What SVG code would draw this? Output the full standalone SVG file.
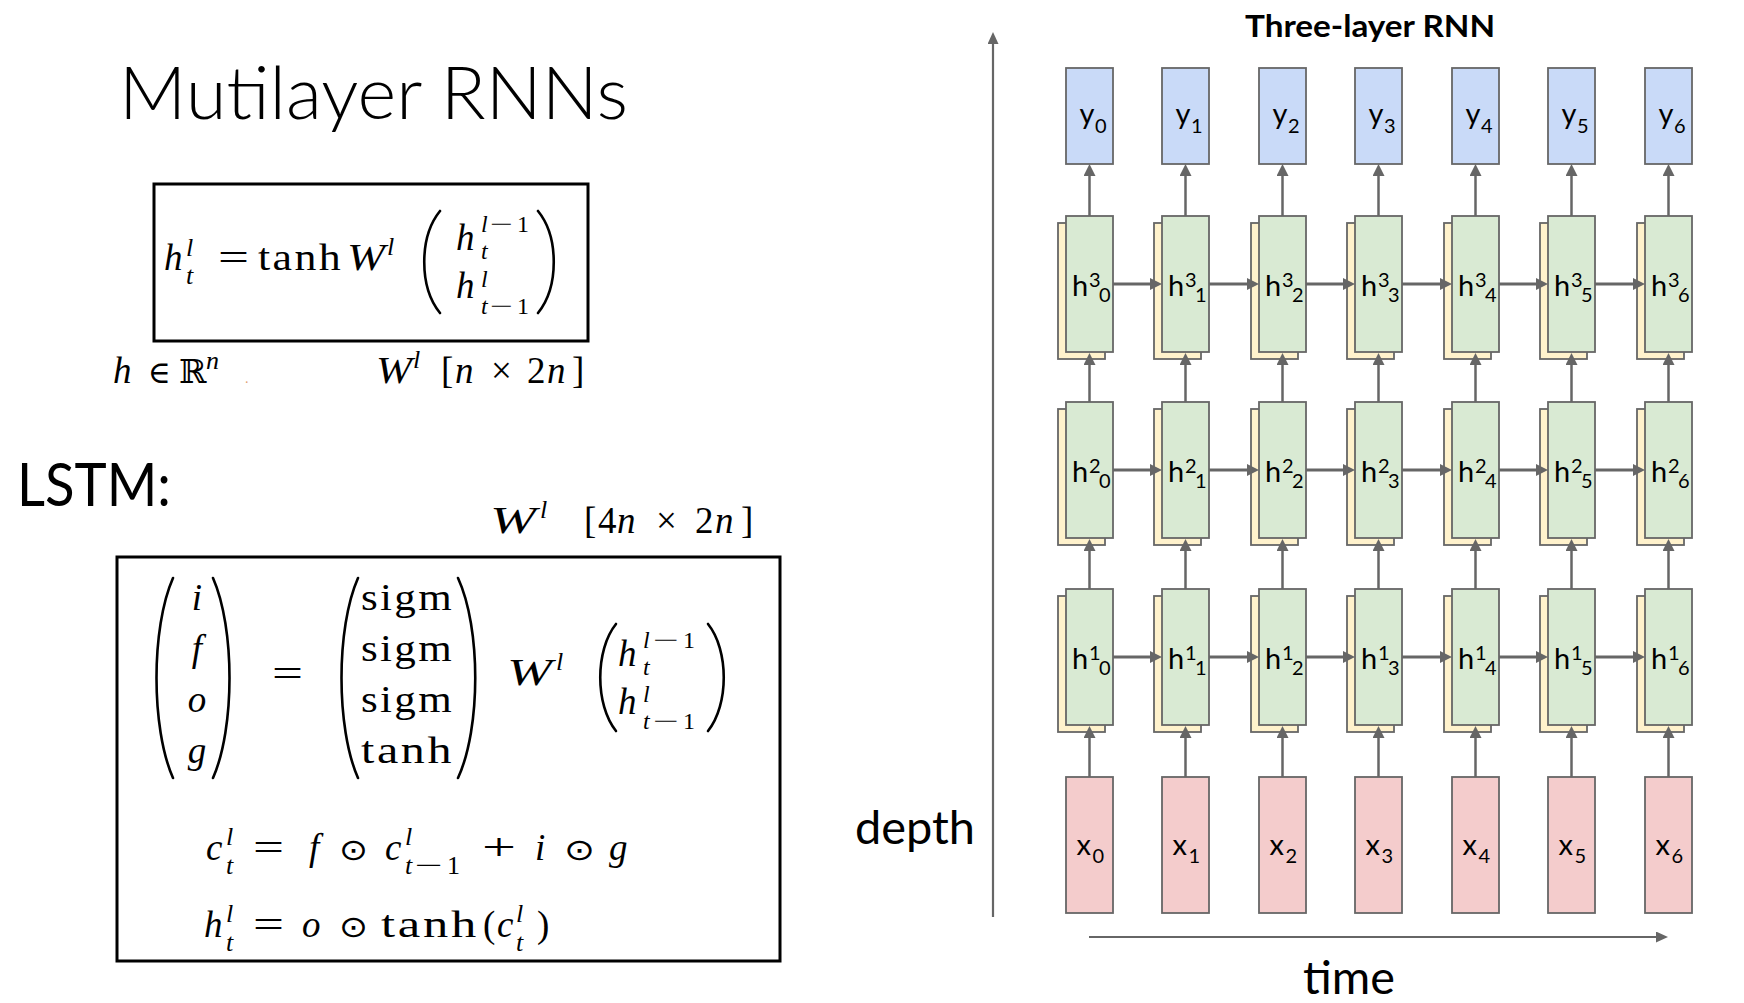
<svg xmlns="http://www.w3.org/2000/svg" width="1744" height="1003" viewBox="0 0 1744 1003">
<defs>
<style>
.cal{font-family:Lato,"Open Sans","Liberation Sans",sans-serif;fill:#000}
.m{font-family:"Liberation Serif","DejaVu Serif",serif;font-size:37px;fill:#000}
.wd{font-size:37px;letter-spacing:2px}
.mr{font-family:"DejaVu Serif","DejaVu Sans",serif;fill:#000}
.i{font-style:italic}
.s{font-size:26px}
.s4{font-size:24px}
.sym{font-family:"DejaVu Sans","DejaVu Serif",sans-serif;font-size:30px}
.par{fill:none;stroke:#000;stroke-width:2.6;stroke-linecap:round}
.fb{fill:none;stroke:#000;stroke-width:3}
.nb{stroke:#666;stroke-width:1.8}
.y{fill:#c9daf8}
.g{fill:#d9ead3}
.w{fill:#fff2cc}
.x{fill:#f4cccc}
.lb{font-family:Lato,"Open Sans","Liberation Sans",sans-serif;font-size:29px;fill:#000}
.sc{font-size:20px}
.v{stroke:#666;stroke-width:2.5;fill:none}
.hz{stroke:#666;stroke-width:3;fill:none}
.ax{stroke:#666;stroke-width:2.2;fill:none}
</style>
<marker id="ah" markerUnits="userSpaceOnUse" markerWidth="12" markerHeight="12" viewBox="0 0 12 12" refX="0" refY="6" orient="auto"><path d="M0,0 L12,6 L0,12 z" fill="#666"/></marker>
<marker id="ahx" markerUnits="userSpaceOnUse" markerWidth="12" markerHeight="11" viewBox="0 0 12 11" refX="0" refY="5.5" orient="auto"><path d="M0,0 L12,5.5 L0,11 z" fill="#666"/></marker>
</defs>
<rect width="1744" height="1003" fill="#fff"/>

<g id="title">
<text class="cal" x="119" y="119" font-size="72" font-weight="300" textLength="509" lengthAdjust="spacingAndGlyphs">Mutilayer RNNs</text>
</g>

<g id="rnn-formula">
<rect class="fb" x="154" y="184" width="434" height="157"/>
<text class="m i" x="164" y="270">h</text>
<text class="m i s" x="186" y="256">l</text>
<text class="m i s" x="186" y="284">t</text>
<text class="m" x="218" y="270" textLength="31" lengthAdjust="spacingAndGlyphs">=</text>
<text class="m wd" x="258" y="270" textLength="85" lengthAdjust="spacingAndGlyphs">tanh</text>
<text class="m i" x="347" y="270" textLength="38" lengthAdjust="spacingAndGlyphs">W</text>
<text class="m i s" x="387" y="255">l</text>
<path class="par" d="M440,211 C419,237 419,287 440,313"/>
<text class="m i" x="456" y="250">h</text>
<text class="m i s4" x="481" y="232">l</text>
<text class="m s4" x="490" y="232" textLength="23" lengthAdjust="spacingAndGlyphs">−</text>
<text class="m s4" x="517" y="232">1</text>
<text class="m i s4" x="481" y="259">t</text>
<text class="m i" x="456" y="298">h</text>
<text class="m i s4" x="481" y="287">l</text>
<text class="m i s4" x="481" y="314">t</text>
<text class="m s4" x="490" y="314" textLength="23" lengthAdjust="spacingAndGlyphs">−</text>
<text class="m s4" x="517" y="314">1</text>
<path class="par" d="M538,211 C559,237 559,287 538,313"/>
</g>

<g id="rnn-dims">
<text class="m i" x="113" y="383">h</text>
<text class="mr" x="148" y="383" font-size="31">∈</text>
<text class="mr" x="179" y="383" font-size="33">ℝ</text>
<text class="m i s" x="206" y="369">n</text>
<text x="245" y="383" font-family="Liberation Serif, serif" font-size="14" fill="#e0a070">.</text>
<text class="m i" x="376" y="383" textLength="36" lengthAdjust="spacingAndGlyphs">W</text>
<text class="m i s" x="413" y="368">l</text>
<text class="m" y="383"><tspan x="441">[</tspan><tspan x="455" font-style="italic">n</tspan><tspan x="491">×</tspan><tspan x="527">2</tspan><tspan x="547" font-style="italic">n</tspan><tspan x="572">]</tspan></text>
</g>

<g id="lstm-label">
<text class="cal" x="17" y="506" font-size="60" textLength="154" lengthAdjust="spacingAndGlyphs">LSTM:</text>
</g>

<g id="lstm-dims">
<text class="m i" x="490" y="533" textLength="46" lengthAdjust="spacingAndGlyphs">W</text>
<text class="m i s" x="540" y="518">l</text>
<text class="m" y="533"><tspan x="584">[</tspan><tspan x="598">4</tspan><tspan x="617" font-style="italic">n</tspan><tspan x="656">×</tspan><tspan x="695">2</tspan><tspan x="715" font-style="italic">n</tspan><tspan x="741">]</tspan></text>
</g>

<g id="lstm-formula">
<rect class="fb" x="117" y="557" width="663" height="404"/>
<path class="par" d="M173,578 C151,628 151,728 173,778"/>
<text class="m i" text-anchor="middle"><tspan x="197" y="610">i</tspan><tspan x="197" y="661">f</tspan><tspan x="197" y="712">o</tspan><tspan x="197" y="763">g</tspan></text>
<path class="par" d="M213,578 C235,628 235,728 213,778"/>
<text class="m" x="272" y="686" textLength="31" lengthAdjust="spacingAndGlyphs">=</text>
<path class="par" d="M358,578 C336,628 336,728 358,778"/>
<text class="m wd" x="361" y="610" textLength="93" lengthAdjust="spacingAndGlyphs">sigm</text>
<text class="m wd" x="361" y="661" textLength="93" lengthAdjust="spacingAndGlyphs">sigm</text>
<text class="m wd" x="361" y="712" textLength="93" lengthAdjust="spacingAndGlyphs">sigm</text>
<text class="m wd" x="361" y="763" textLength="93" lengthAdjust="spacingAndGlyphs">tanh</text>
<path class="par" d="M458,578 C481,628 481,728 458,778"/>
<text class="m i" x="507" y="685" textLength="45" lengthAdjust="spacingAndGlyphs">W</text>
<text class="m i s" x="556" y="670">l</text>
<path class="par" d="M616,624 C595,650 595,705 616,731"/>
<text class="m i" x="618" y="666">h</text>
<text class="m i s4" x="643" y="648">l</text>
<text class="m s4" x="653" y="648" textLength="26" lengthAdjust="spacingAndGlyphs">−</text>
<text class="m s4" x="683" y="648">1</text>
<text class="m i s4" x="643" y="675">t</text>
<text class="m i" x="618" y="714">h</text>
<text class="m i s4" x="643" y="702">l</text>
<text class="m i s4" x="643" y="729">t</text>
<text class="m s4" x="653" y="729" textLength="26" lengthAdjust="spacingAndGlyphs">−</text>
<text class="m s4" x="683" y="729">1</text>
<path class="par" d="M708,624 C729,650 729,705 708,731"/>

<text class="m i" x="206" y="860">c</text>
<text class="m i s" x="226" y="845">l</text>
<text class="m i s" x="226" y="874">t</text>
<text class="m" x="253" y="860" textLength="31" lengthAdjust="spacingAndGlyphs">=</text>
<text class="m i" x="309" y="860">f</text>
<text class="m sym" x="339" y="860" textLength="29" lengthAdjust="spacingAndGlyphs">⊙</text>
<text class="m i" x="385" y="860">c</text>
<text class="m i s" x="405" y="845">l</text>
<text class="m i s" x="405" y="874">t</text>
<text class="m s" x="415" y="874" textLength="28" lengthAdjust="spacingAndGlyphs">−</text>
<text class="m s" x="447" y="874">1</text>
<text class="m" x="482" y="860" textLength="34" lengthAdjust="spacingAndGlyphs">+</text>
<text class="m i" x="535" y="860">i</text>
<text class="m sym" x="564" y="860" textLength="31" lengthAdjust="spacingAndGlyphs">⊙</text>
<text class="m i" x="609" y="860">g</text>

<text class="m i" x="204" y="937">h</text>
<text class="m i s" x="226" y="922">l</text>
<text class="m i s" x="226" y="951">t</text>
<text class="m" x="253" y="937" textLength="31" lengthAdjust="spacingAndGlyphs">=</text>
<text class="m i" x="302" y="937">o</text>
<text class="m sym" x="339" y="937" textLength="29" lengthAdjust="spacingAndGlyphs">⊙</text>
<text class="m wd" x="381" y="937" textLength="98" lengthAdjust="spacingAndGlyphs">tanh</text>
<text class="m" x="483" y="937">(</text>
<text class="m i" x="497" y="937">c</text>
<text class="m i s" x="516" y="922">l</text>
<text class="m i s" x="516" y="951">t</text>
<text class="m" x="537" y="937">)</text>
</g>

<g id="rnn-title">
<text class="cal" x="1245" y="37" font-size="30" font-weight="700" textLength="250" lengthAdjust="spacingAndGlyphs">Three-layer RNN</text>
</g>

<g id="axis-labels">
<text class="cal" x="855" y="844" font-size="46" textLength="120" lengthAdjust="spacingAndGlyphs">depth</text>
<text class="cal" x="1303" y="994" font-size="46" textLength="92" lengthAdjust="spacingAndGlyphs">time</text>
</g>

<g id="y0"><rect class="nb y" x="1066" y="68" width="47" height="96"/><text class="lb"><tspan x="1079.5" y="124">y</tspan><tspan class="sc" x="1095" y="133">0</tspan></text></g>
<g id="y1"><rect class="nb y" x="1162" y="68" width="47" height="96"/><text class="lb"><tspan x="1175.5" y="124">y</tspan><tspan class="sc" x="1191" y="133">1</tspan></text></g>
<g id="y2"><rect class="nb y" x="1259" y="68" width="47" height="96"/><text class="lb"><tspan x="1272.5" y="124">y</tspan><tspan class="sc" x="1288" y="133">2</tspan></text></g>
<g id="y3"><rect class="nb y" x="1355" y="68" width="47" height="96"/><text class="lb"><tspan x="1368.5" y="124">y</tspan><tspan class="sc" x="1384" y="133">3</tspan></text></g>
<g id="y4"><rect class="nb y" x="1452" y="68" width="47" height="96"/><text class="lb"><tspan x="1465.5" y="124">y</tspan><tspan class="sc" x="1481" y="133">4</tspan></text></g>
<g id="y5"><rect class="nb y" x="1548" y="68" width="47" height="96"/><text class="lb"><tspan x="1561.5" y="124">y</tspan><tspan class="sc" x="1577" y="133">5</tspan></text></g>
<g id="y6"><rect class="nb y" x="1645" y="68" width="47" height="96"/><text class="lb"><tspan x="1658.5" y="124">y</tspan><tspan class="sc" x="1674" y="133">6</tspan></text></g>

<g id="h3-0"><rect class="nb w" x="1058" y="223" width="47" height="136"/><rect class="nb g" x="1066" y="216" width="47" height="136"/><text class="lb"><tspan x="1072" y="295.5">h</tspan><tspan class="sc" x="1089" y="286.5">3</tspan><tspan class="sc" x="1099" y="301.5">0</tspan></text></g>
<g id="h3-1"><rect class="nb w" x="1154" y="223" width="47" height="136"/><rect class="nb g" x="1162" y="216" width="47" height="136"/><text class="lb"><tspan x="1168" y="295.5">h</tspan><tspan class="sc" x="1185" y="286.5">3</tspan><tspan class="sc" x="1195" y="301.5">1</tspan></text></g>
<g id="h3-2"><rect class="nb w" x="1251" y="223" width="47" height="136"/><rect class="nb g" x="1259" y="216" width="47" height="136"/><text class="lb"><tspan x="1265" y="295.5">h</tspan><tspan class="sc" x="1282" y="286.5">3</tspan><tspan class="sc" x="1292" y="301.5">2</tspan></text></g>
<g id="h3-3"><rect class="nb w" x="1347" y="223" width="47" height="136"/><rect class="nb g" x="1355" y="216" width="47" height="136"/><text class="lb"><tspan x="1361" y="295.5">h</tspan><tspan class="sc" x="1378" y="286.5">3</tspan><tspan class="sc" x="1388" y="301.5">3</tspan></text></g>
<g id="h3-4"><rect class="nb w" x="1444" y="223" width="47" height="136"/><rect class="nb g" x="1452" y="216" width="47" height="136"/><text class="lb"><tspan x="1458" y="295.5">h</tspan><tspan class="sc" x="1475" y="286.5">3</tspan><tspan class="sc" x="1485" y="301.5">4</tspan></text></g>
<g id="h3-5"><rect class="nb w" x="1540" y="223" width="47" height="136"/><rect class="nb g" x="1548" y="216" width="47" height="136"/><text class="lb"><tspan x="1554" y="295.5">h</tspan><tspan class="sc" x="1571" y="286.5">3</tspan><tspan class="sc" x="1581" y="301.5">5</tspan></text></g>
<g id="h3-6"><rect class="nb w" x="1637" y="223" width="47" height="136"/><rect class="nb g" x="1645" y="216" width="47" height="136"/><text class="lb"><tspan x="1651" y="295.5">h</tspan><tspan class="sc" x="1668" y="286.5">3</tspan><tspan class="sc" x="1678" y="301.5">6</tspan></text></g>

<g id="h2-0"><rect class="nb w" x="1058" y="409" width="47" height="136"/><rect class="nb g" x="1066" y="402" width="47" height="136"/><text class="lb"><tspan x="1072" y="481.5">h</tspan><tspan class="sc" x="1089" y="472.5">2</tspan><tspan class="sc" x="1099" y="487.5">0</tspan></text></g>
<g id="h2-1"><rect class="nb w" x="1154" y="409" width="47" height="136"/><rect class="nb g" x="1162" y="402" width="47" height="136"/><text class="lb"><tspan x="1168" y="481.5">h</tspan><tspan class="sc" x="1185" y="472.5">2</tspan><tspan class="sc" x="1195" y="487.5">1</tspan></text></g>
<g id="h2-2"><rect class="nb w" x="1251" y="409" width="47" height="136"/><rect class="nb g" x="1259" y="402" width="47" height="136"/><text class="lb"><tspan x="1265" y="481.5">h</tspan><tspan class="sc" x="1282" y="472.5">2</tspan><tspan class="sc" x="1292" y="487.5">2</tspan></text></g>
<g id="h2-3"><rect class="nb w" x="1347" y="409" width="47" height="136"/><rect class="nb g" x="1355" y="402" width="47" height="136"/><text class="lb"><tspan x="1361" y="481.5">h</tspan><tspan class="sc" x="1378" y="472.5">2</tspan><tspan class="sc" x="1388" y="487.5">3</tspan></text></g>
<g id="h2-4"><rect class="nb w" x="1444" y="409" width="47" height="136"/><rect class="nb g" x="1452" y="402" width="47" height="136"/><text class="lb"><tspan x="1458" y="481.5">h</tspan><tspan class="sc" x="1475" y="472.5">2</tspan><tspan class="sc" x="1485" y="487.5">4</tspan></text></g>
<g id="h2-5"><rect class="nb w" x="1540" y="409" width="47" height="136"/><rect class="nb g" x="1548" y="402" width="47" height="136"/><text class="lb"><tspan x="1554" y="481.5">h</tspan><tspan class="sc" x="1571" y="472.5">2</tspan><tspan class="sc" x="1581" y="487.5">5</tspan></text></g>
<g id="h2-6"><rect class="nb w" x="1637" y="409" width="47" height="136"/><rect class="nb g" x="1645" y="402" width="47" height="136"/><text class="lb"><tspan x="1651" y="481.5">h</tspan><tspan class="sc" x="1668" y="472.5">2</tspan><tspan class="sc" x="1678" y="487.5">6</tspan></text></g>

<g id="h1-0"><rect class="nb w" x="1058" y="596" width="47" height="136"/><rect class="nb g" x="1066" y="589" width="47" height="136"/><text class="lb"><tspan x="1072" y="668.5">h</tspan><tspan class="sc" x="1089" y="659.5">1</tspan><tspan class="sc" x="1099" y="674.5">0</tspan></text></g>
<g id="h1-1"><rect class="nb w" x="1154" y="596" width="47" height="136"/><rect class="nb g" x="1162" y="589" width="47" height="136"/><text class="lb"><tspan x="1168" y="668.5">h</tspan><tspan class="sc" x="1185" y="659.5">1</tspan><tspan class="sc" x="1195" y="674.5">1</tspan></text></g>
<g id="h1-2"><rect class="nb w" x="1251" y="596" width="47" height="136"/><rect class="nb g" x="1259" y="589" width="47" height="136"/><text class="lb"><tspan x="1265" y="668.5">h</tspan><tspan class="sc" x="1282" y="659.5">1</tspan><tspan class="sc" x="1292" y="674.5">2</tspan></text></g>
<g id="h1-3"><rect class="nb w" x="1347" y="596" width="47" height="136"/><rect class="nb g" x="1355" y="589" width="47" height="136"/><text class="lb"><tspan x="1361" y="668.5">h</tspan><tspan class="sc" x="1378" y="659.5">1</tspan><tspan class="sc" x="1388" y="674.5">3</tspan></text></g>
<g id="h1-4"><rect class="nb w" x="1444" y="596" width="47" height="136"/><rect class="nb g" x="1452" y="589" width="47" height="136"/><text class="lb"><tspan x="1458" y="668.5">h</tspan><tspan class="sc" x="1475" y="659.5">1</tspan><tspan class="sc" x="1485" y="674.5">4</tspan></text></g>
<g id="h1-5"><rect class="nb w" x="1540" y="596" width="47" height="136"/><rect class="nb g" x="1548" y="589" width="47" height="136"/><text class="lb"><tspan x="1554" y="668.5">h</tspan><tspan class="sc" x="1571" y="659.5">1</tspan><tspan class="sc" x="1581" y="674.5">5</tspan></text></g>
<g id="h1-6"><rect class="nb w" x="1637" y="596" width="47" height="136"/><rect class="nb g" x="1645" y="589" width="47" height="136"/><text class="lb"><tspan x="1651" y="668.5">h</tspan><tspan class="sc" x="1668" y="659.5">1</tspan><tspan class="sc" x="1678" y="674.5">6</tspan></text></g>

<g id="x0"><rect class="nb x" x="1066" y="777" width="47" height="136"/><text class="lb"><tspan x="1076.5" y="855">x</tspan><tspan class="sc" x="1092.5" y="862.5">0</tspan></text></g>
<g id="x1"><rect class="nb x" x="1162" y="777" width="47" height="136"/><text class="lb"><tspan x="1172.5" y="855">x</tspan><tspan class="sc" x="1188.5" y="862.5">1</tspan></text></g>
<g id="x2"><rect class="nb x" x="1259" y="777" width="47" height="136"/><text class="lb"><tspan x="1269.5" y="855">x</tspan><tspan class="sc" x="1285.5" y="862.5">2</tspan></text></g>
<g id="x3"><rect class="nb x" x="1355" y="777" width="47" height="136"/><text class="lb"><tspan x="1365.5" y="855">x</tspan><tspan class="sc" x="1381.5" y="862.5">3</tspan></text></g>
<g id="x4"><rect class="nb x" x="1452" y="777" width="47" height="136"/><text class="lb"><tspan x="1462.5" y="855">x</tspan><tspan class="sc" x="1478.5" y="862.5">4</tspan></text></g>
<g id="x5"><rect class="nb x" x="1548" y="777" width="47" height="136"/><text class="lb"><tspan x="1558.5" y="855">x</tspan><tspan class="sc" x="1574.5" y="862.5">5</tspan></text></g>
<g id="x6"><rect class="nb x" x="1645" y="777" width="47" height="136"/><text class="lb"><tspan x="1655.5" y="855">x</tspan><tspan class="sc" x="1671.5" y="862.5">6</tspan></text></g>

<g id="connectors">
<path class="ax" d="M993,917 V44" marker-end="url(#ahx)"/>
<path class="ax" d="M1089,937 H1656" marker-end="url(#ahx)"/>
<g class="v" marker-end="url(#ah)">
<path d="M1089.5,216 V176"/><path d="M1185.5,216 V176"/><path d="M1282.5,216 V176"/><path d="M1378.5,216 V176"/><path d="M1475.5,216 V176"/><path d="M1571.5,216 V176"/><path d="M1668.5,216 V176"/>
<path d="M1089.5,402 V365"/><path d="M1185.5,402 V365"/><path d="M1282.5,402 V365"/><path d="M1378.5,402 V365"/><path d="M1475.5,402 V365"/><path d="M1571.5,402 V365"/><path d="M1668.5,402 V365"/>
<path d="M1089.5,589 V551"/><path d="M1185.5,589 V551"/><path d="M1282.5,589 V551"/><path d="M1378.5,589 V551"/><path d="M1475.5,589 V551"/><path d="M1571.5,589 V551"/><path d="M1668.5,589 V551"/>
<path d="M1089.5,777 V738"/><path d="M1185.5,777 V738"/><path d="M1282.5,777 V738"/><path d="M1378.5,777 V738"/><path d="M1475.5,777 V738"/><path d="M1571.5,777 V738"/><path d="M1668.5,777 V738"/>
</g>
<g class="hz" marker-end="url(#ah)">
<path d="M1113,284 H1150"/><path d="M1209,284 H1247"/><path d="M1306,284 H1343"/><path d="M1402,284 H1440"/><path d="M1499,284 H1536"/><path d="M1595,284 H1633"/>
<path d="M1113,470 H1150"/><path d="M1209,470 H1247"/><path d="M1306,470 H1343"/><path d="M1402,470 H1440"/><path d="M1499,470 H1536"/><path d="M1595,470 H1633"/>
<path d="M1113,657 H1150"/><path d="M1209,657 H1247"/><path d="M1306,657 H1343"/><path d="M1402,657 H1440"/><path d="M1499,657 H1536"/><path d="M1595,657 H1633"/>
</g>
</g>
</svg>
